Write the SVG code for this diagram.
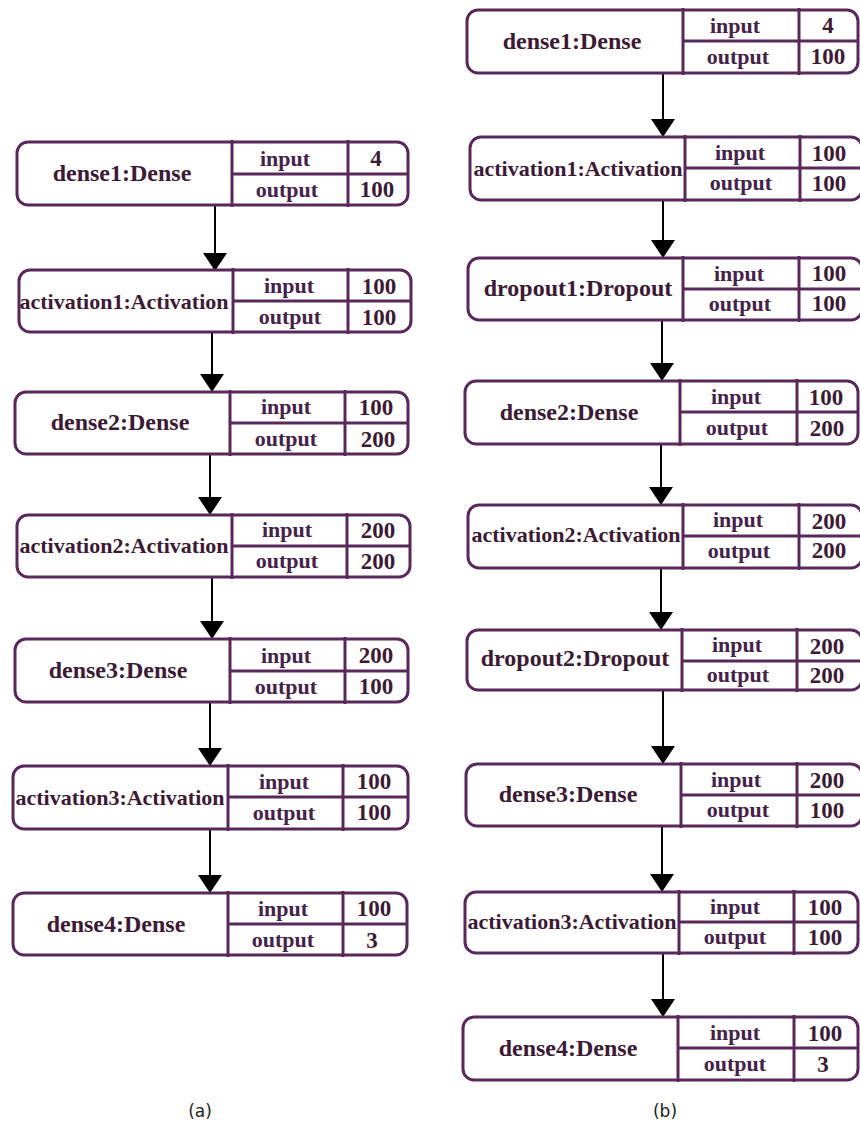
<svg xmlns="http://www.w3.org/2000/svg" width="860" height="1124" viewBox="0 0 860 1124">
  <style>
    .box { fill: #ffffff; stroke: #58285a; stroke-width: 3; }
    .div { stroke: #58285a; stroke-width: 3; }
    .name { font-family: "Liberation Serif", "Times New Roman", serif; font-weight: bold; fill: #3c1a36; text-anchor: middle; }
    .big { font-size: 24px; }
    .act { font-size: 22px; }
    .port { font-family: "Liberation Serif", "Times New Roman", serif; font-weight: bold; font-size: 22px; fill: #45224a; text-anchor: middle; }
    .num { font-family: "Liberation Serif", "Times New Roman", serif; font-weight: bold; font-size: 23px; fill: #3c1a36; text-anchor: middle; }
    .edge { stroke: #000000; stroke-width: 2; fill: none; }
    .head { fill: #000000; }
    .cap { font-family: "DejaVu Sans", Verdana, sans-serif; font-size: 17px; fill: #222222; text-anchor: middle; }
  </style>

  <!-- connectors -->
  <g id="connectors">
    <!-- column (a) -->
    <line class="edge" x1="215" y1="205" x2="215" y2="256"/><polygon class="head" points="203,253 227,253 215,271"/>
    <line class="edge" x1="212" y1="332" x2="212" y2="377"/><polygon class="head" points="200,374 224,374 212,392"/>
    <line class="edge" x1="210" y1="455" x2="210" y2="500"/><polygon class="head" points="198,497 222,497 210,515"/>
    <line class="edge" x1="212" y1="577" x2="212" y2="624"/><polygon class="head" points="200,621 224,621 212,639"/>
    <line class="edge" x1="210" y1="702" x2="210" y2="751"/><polygon class="head" points="198,748 222,748 210,766"/>
    <line class="edge" x1="210" y1="829" x2="210" y2="878"/><polygon class="head" points="198,875 222,875 210,893"/>
    <!-- column (b) -->
    <line class="edge" x1="663" y1="73" x2="663" y2="122"/><polygon class="head" points="651,119 675,119 663,137"/>
    <line class="edge" x1="663" y1="200" x2="663" y2="243"/><polygon class="head" points="651,240 675,240 663,258"/>
    <line class="edge" x1="662" y1="320" x2="662" y2="366"/><polygon class="head" points="650,363 674,363 662,381"/>
    <line class="edge" x1="661" y1="444" x2="661" y2="490"/><polygon class="head" points="649,487 673,487 661,505"/>
    <line class="edge" x1="661" y1="568" x2="661" y2="615"/><polygon class="head" points="649,612 673,612 661,630"/>
    <line class="edge" x1="663" y1="690" x2="663" y2="749"/><polygon class="head" points="651,746 675,746 663,764"/>
    <line class="edge" x1="662" y1="826" x2="662" y2="877"/><polygon class="head" points="650,874 674,874 662,892"/>
    <line class="edge" x1="663" y1="952" x2="663" y2="1002"/><polygon class="head" points="651,999 675,999 663,1017"/>
  </g>

  <!-- column (a) layers -->
  <g id="a-dense1">
    <rect class="box" x="17" y="142" width="391" height="63" rx="11"/>
    <line class="div" x1="232" y1="140" x2="232" y2="207"/><line class="div" x1="348" y1="140" x2="348" y2="207"/><line class="div" x1="232" y1="174" x2="408" y2="174"/>
    <text class="name big" x="122" y="181">dense1:Dense</text>
    <text class="port" x="285" y="166">input</text><text class="port" x="287" y="197">output</text>
    <text class="num" x="376" y="166">4</text><text class="num" x="377" y="197">100</text>
  </g>
  <g id="a-activation1">
    <rect class="box" x="19" y="270" width="392" height="62" rx="11"/>
    <line class="div" x1="233" y1="268" x2="233" y2="334"/><line class="div" x1="348" y1="268" x2="348" y2="334"/><line class="div" x1="233" y1="301" x2="411" y2="301"/>
    <text class="name act" x="124" y="309">activation1:Activation</text>
    <text class="port" x="289" y="293">input</text><text class="port" x="290" y="324">output</text>
    <text class="num" x="379" y="294">100</text><text class="num" x="379" y="325">100</text>
  </g>
  <g id="a-dense2">
    <rect class="box" x="15" y="392" width="393" height="62" rx="11"/>
    <line class="div" x1="230" y1="390" x2="230" y2="456"/><line class="div" x1="345" y1="390" x2="345" y2="456"/><line class="div" x1="230" y1="423" x2="408" y2="423"/>
    <text class="name big" x="120" y="430">dense2:Dense</text>
    <text class="port" x="286" y="414">input</text><text class="port" x="286" y="446">output</text>
    <text class="num" x="376" y="415">100</text><text class="num" x="378" y="447">200</text>
  </g>
  <g id="a-activation2">
    <rect class="box" x="17" y="515" width="393" height="62" rx="11"/>
    <line class="div" x1="232" y1="513" x2="232" y2="579"/><line class="div" x1="347" y1="513" x2="347" y2="579"/><line class="div" x1="232" y1="546" x2="410" y2="546"/>
    <text class="name act" x="124" y="553">activation2:Activation</text>
    <text class="port" x="287" y="537">input</text><text class="port" x="287" y="568">output</text>
    <text class="num" x="378" y="538">200</text><text class="num" x="378" y="569">200</text>
  </g>
  <g id="a-dense3">
    <rect class="box" x="15" y="639" width="393" height="63" rx="11"/>
    <line class="div" x1="230" y1="637" x2="230" y2="704"/><line class="div" x1="345" y1="637" x2="345" y2="704"/><line class="div" x1="230" y1="671" x2="408" y2="671"/>
    <text class="name big" x="118" y="678">dense3:Dense</text>
    <text class="port" x="286" y="663">input</text><text class="port" x="286" y="694">output</text>
    <text class="num" x="376" y="663">200</text><text class="num" x="376" y="694">100</text>
  </g>
  <g id="a-activation3">
    <rect class="box" x="13" y="766" width="395" height="63" rx="11"/>
    <line class="div" x1="228" y1="764" x2="228" y2="831"/><line class="div" x1="343" y1="764" x2="343" y2="831"/><line class="div" x1="228" y1="797" x2="408" y2="797"/>
    <text class="name act" x="120" y="805">activation3:Activation</text>
    <text class="port" x="284" y="789">input</text><text class="port" x="284" y="820">output</text>
    <text class="num" x="374" y="789">100</text><text class="num" x="374" y="820">100</text>
  </g>
  <g id="a-dense4">
    <rect class="box" x="13" y="893" width="394" height="62" rx="11"/>
    <line class="div" x1="228" y1="891" x2="228" y2="957"/><line class="div" x1="343" y1="891" x2="343" y2="957"/><line class="div" x1="228" y1="924" x2="407" y2="924"/>
    <text class="name big" x="116" y="932">dense4:Dense</text>
    <text class="port" x="283" y="916">input</text><text class="port" x="283" y="947">output</text>
    <text class="num" x="374" y="916">100</text><text class="num" x="372" y="948">3</text>
  </g>

  <!-- column (b) layers -->
  <g id="b-dense1">
    <rect class="box" x="467" y="10" width="391" height="63" rx="11"/>
    <line class="div" x1="683" y1="8" x2="683" y2="75"/><line class="div" x1="799" y1="8" x2="799" y2="75"/><line class="div" x1="683" y1="41" x2="858" y2="41"/>
    <text class="name big" x="572" y="49">dense1:Dense</text>
    <text class="port" x="735" y="33">input</text><text class="port" x="738" y="64">output</text>
    <text class="num" x="828" y="33">4</text><text class="num" x="828" y="64">100</text>
  </g>
  <g id="b-activation1">
    <rect class="box" x="470" y="137" width="392" height="63" rx="11"/>
    <line class="div" x1="685" y1="135" x2="685" y2="202"/><line class="div" x1="800" y1="135" x2="800" y2="202"/><line class="div" x1="685" y1="168" x2="862" y2="168"/>
    <text class="name act" x="578" y="176">activation1:Activation</text>
    <text class="port" x="740" y="160">input</text><text class="port" x="741" y="190">output</text>
    <text class="num" x="829" y="161">100</text><text class="num" x="829" y="191">100</text>
  </g>
  <g id="b-dropout1">
    <rect class="box" x="468" y="258" width="394" height="62" rx="11"/>
    <line class="div" x1="683" y1="256" x2="683" y2="322"/><line class="div" x1="799" y1="256" x2="799" y2="322"/><line class="div" x1="683" y1="289" x2="862" y2="289"/>
    <text class="name big" x="578" y="296">dropout1:Dropout</text>
    <text class="port" x="739" y="281">input</text><text class="port" x="740" y="311">output</text>
    <text class="num" x="829" y="281">100</text><text class="num" x="829" y="311">100</text>
  </g>
  <g id="b-dense2">
    <rect class="box" x="465" y="381" width="393" height="63" rx="11"/>
    <line class="div" x1="680" y1="379" x2="680" y2="446"/><line class="div" x1="797" y1="379" x2="797" y2="446"/><line class="div" x1="680" y1="412" x2="858" y2="412"/>
    <text class="name big" x="569" y="420">dense2:Dense</text>
    <text class="port" x="736" y="404">input</text><text class="port" x="737" y="435">output</text>
    <text class="num" x="826" y="405">100</text><text class="num" x="827" y="436">200</text>
  </g>
  <g id="b-activation2">
    <rect class="box" x="468" y="505" width="394" height="63" rx="11"/>
    <line class="div" x1="683" y1="503" x2="683" y2="570"/><line class="div" x1="799" y1="503" x2="799" y2="570"/><line class="div" x1="683" y1="536" x2="862" y2="536"/>
    <text class="name act" x="576" y="542">activation2:Activation</text>
    <text class="port" x="738" y="527">input</text><text class="port" x="739" y="558">output</text>
    <text class="num" x="829" y="529">200</text><text class="num" x="829" y="558">200</text>
  </g>
  <g id="b-dropout2">
    <rect class="box" x="467" y="630" width="395" height="60" rx="11"/>
    <line class="div" x1="682" y1="628" x2="682" y2="692"/><line class="div" x1="797" y1="628" x2="797" y2="692"/><line class="div" x1="682" y1="661" x2="862" y2="661"/>
    <text class="name big" x="575" y="666">dropout2:Dropout</text>
    <text class="port" x="737" y="652">input</text><text class="port" x="738" y="682">output</text>
    <text class="num" x="827" y="654">200</text><text class="num" x="827" y="683">200</text>
  </g>
  <g id="b-dense3">
    <rect class="box" x="466" y="764" width="396" height="62" rx="11"/>
    <line class="div" x1="681" y1="762" x2="681" y2="828"/><line class="div" x1="797" y1="762" x2="797" y2="828"/><line class="div" x1="681" y1="795" x2="862" y2="795"/>
    <text class="name big" x="568" y="802">dense3:Dense</text>
    <text class="port" x="736" y="787">input</text><text class="port" x="738" y="817">output</text>
    <text class="num" x="827" y="788">200</text><text class="num" x="827" y="818">100</text>
  </g>
  <g id="b-activation3">
    <rect class="box" x="465" y="892" width="393" height="61" rx="11"/>
    <line class="div" x1="679" y1="890" x2="679" y2="955"/><line class="div" x1="794" y1="890" x2="794" y2="955"/><line class="div" x1="679" y1="922" x2="858" y2="922"/>
    <text class="name act" x="572" y="929">activation3:Activation</text>
    <text class="port" x="735" y="914">input</text><text class="port" x="735" y="944">output</text>
    <text class="num" x="825" y="915">100</text><text class="num" x="825" y="945">100</text>
  </g>
  <g id="b-dense4">
    <rect class="box" x="463" y="1017" width="395" height="63" rx="11"/>
    <line class="div" x1="678" y1="1015" x2="678" y2="1082"/><line class="div" x1="794" y1="1015" x2="794" y2="1082"/><line class="div" x1="678" y1="1048" x2="858" y2="1048"/>
    <text class="name big" x="568" y="1056">dense4:Dense</text>
    <text class="port" x="735" y="1040">input</text><text class="port" x="735" y="1071">output</text>
    <text class="num" x="825" y="1041">100</text><text class="num" x="823" y="1072">3</text>
  </g>

  <!-- sub-figure captions -->
  <text class="cap" x="200" y="1117">(a)</text>
  <text class="cap" x="665" y="1117">(b)</text>
</svg>
